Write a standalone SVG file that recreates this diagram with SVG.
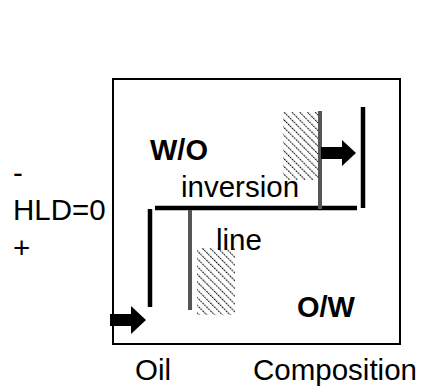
<svg xmlns="http://www.w3.org/2000/svg" width="422" height="389" viewBox="0 0 422 389">
<style>
text{font-family:"Liberation Sans",Arial,sans-serif;fill:#000}
.t{font-size:29.5px}
.b{font-size:29px;font-weight:bold}
.blk{stroke:#000;stroke-width:4.5;fill:none}
.gry{stroke:#555;stroke-width:4;fill:none}
</style>
<defs>
<pattern id="hatch" patternUnits="userSpaceOnUse" width="5.5" height="5.5" patternTransform="rotate(-45)">
<line x1="0" y1="0" x2="0" y2="5.5" stroke="#000" stroke-width="2.2" stroke-dasharray="1.6 1"/>
</pattern>
</defs>
<rect x="0" y="0" width="422" height="389" fill="#fff"/>
<g id="frame"><rect x="113" y="79" width="287" height="265" fill="none" stroke="#000" stroke-width="2"/></g>
<g id="hatch-right"><rect x="283" y="112" width="37" height="68" fill="url(#hatch)"/></g>
<g id="hatch-left"><rect x="197" y="248" width="38" height="67" fill="url(#hatch)"/></g>
<g id="connectors">
<line class="blk" x1="150" y1="209" x2="150" y2="307"/>
<line class="blk" x1="155" y1="208" x2="357" y2="208"/>
<line class="blk" x1="363" y1="107" x2="363" y2="208"/>
<line class="gry" x1="190" y1="210" x2="190" y2="310"/>
<line class="gry" x1="320" y1="111" x2="320" y2="209"/>
<polygon points="321,147 342,147 342,140 356,153 342,166 342,159 321,159" fill="#000"/>
<polygon points="110,314 131,314 131,306 146,320 131,334 131,326 110,326" fill="#000"/>
</g>
<g id="labels">
<text class="b" x="150" y="160">W/O</text>
<text class="t" x="181" y="197">inversion</text>
<text class="t" x="216" y="250">line</text>
<text class="b" x="297" y="317">O/W</text>
<text class="t" x="13" y="183">-</text>
<text class="t" x="13" y="220">HLD=0</text>
<text class="t" x="13" y="258">+</text>
<text class="t" x="135" y="380">Oil</text>
<text class="t" x="253" y="380">Composition</text>
</g>
</svg>
